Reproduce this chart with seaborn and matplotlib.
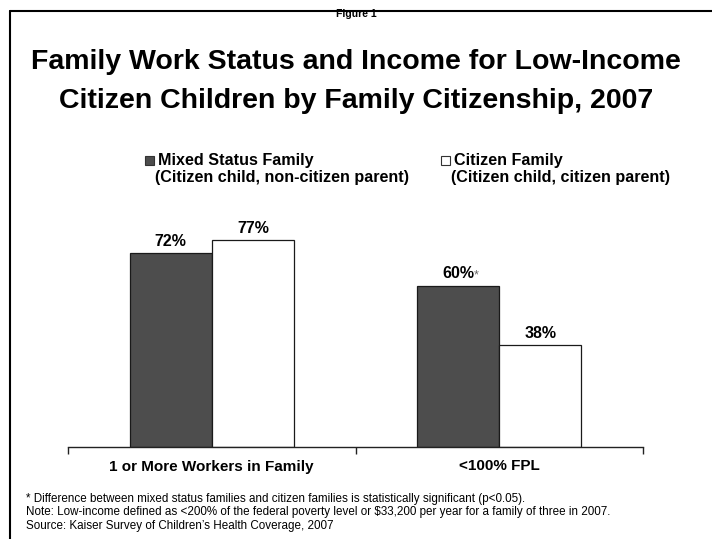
import matplotlib
matplotlib.use("Agg")
import matplotlib.pyplot as plt
import seaborn as sns
import pandas as pd
from matplotlib.patches import Rectangle
from matplotlib.lines import Line2D

categories = ["1 or More Workers in Family", "<100% FPL"]
series = ["Mixed Status Family", "Citizen Family"]
series_notes = ["(Citizen child, non-citizen parent)", "(Citizen child, citizen parent)"]
mixed_values = [72, 60]
citizen_values = [77, 38]
significant = [False, True]

footnotes = [
    "* Difference between mixed status families and citizen families is statistically significant (p<0.05).",
    "Note: Low-income defined as <200% of the federal poverty level or $33,200 per year for a family of three in 2007.",
    "Source: Kaiser Survey of Children\u2019s Health Coverage, 2007",
]

colors = {"Mixed Status Family": "#4d4d4d", "Citizen Family": "#ffffff"}

WIDE = ["Liberation Sans", "DejaVu Sans"]
NARROW = ["Liberation Sans Narrow", "Liberation Sans", "DejaVu Sans"]

df = pd.DataFrame({
    "category": categories * 2,
    "series": [series[0]] * 2 + [series[1]] * 2,
    "value": mixed_values + citizen_values,
})

sns.set_style("white")
plt.rcParams["font.family"] = WIDE
plt.rcParams["text.color"] = "black"
plt.rcParams["xtick.color"] = "black"

fig = plt.figure(figsize=(7.12, 5.39), dpi=100)
ax = fig.add_axes([68 / 712, 92 / 539, 575 / 712, 269 / 539])

sns.barplot(data=df, x="category", y="value", hue="series", order=categories,
            hue_order=series, palette=colors, width=0.572, gap=0,
            edgecolor="#1a1a1a", linewidth=0.9, legend=False, ax=ax)

ax.set_ylim(0, 100)
ax.set_xlim(-0.5, 1.5)
ax.set_xlabel("")
ax.set_ylabel("")
ax.set_yticks([])
for s in ["left", "right", "top"]:
    ax.spines[s].set_visible(False)
ax.spines["bottom"].set_color("#222222")
ax.spines["bottom"].set_linewidth(1.0)

ax.set_xticks(range(len(categories)))
ax.set_xticklabels(categories, fontsize=11, fontweight="bold", family=WIDE)
ax.tick_params(axis="x", which="major", bottom=True, length=0, pad=9, labelcolor="black")
ax.set_xticks([-0.5, 0.5, 1.5], minor=True)
ax.tick_params(axis="x", which="minor", bottom=True, length=5, width=1.0,
               direction="out", color="#222222")

# value labels above the bars
for j, (container, vals) in enumerate(zip(ax.containers, [mixed_values, citizen_values])):
    for i, (bar, v) in enumerate(zip(container, vals)):
        cx = bar.get_x() + bar.get_width() / 2
        ax.annotate(f"{v}%", (cx, v), xytext=(0, 3), textcoords="offset points",
                    ha="center", va="bottom", fontsize=11.5, fontweight="bold",
                    family=NARROW)
        if j == 0 and significant[i]:
            ax.annotate("*", (cx, v), xytext=(11.5, 11.5), textcoords="offset points",
                        ha="left", va="top", fontsize=9, color="#666666", family=NARROW)

# titles
fig.text(0.5, 1 - 14 / 539, "Figure 1", ha="center", va="center",
         fontsize=7.5, fontweight="bold", family=NARROW)
fig.text(0.5, 1 - 62 / 539, "Family Work Status and Income for Low-Income",
         ha="center", va="center", fontsize=20.5, fontweight="bold", family=WIDE)
fig.text(0.5, 1 - 101 / 539, "Citizen Children by Family Citizenship, 2007",
         ha="center", va="center", fontsize=20.5, fontweight="bold", family=WIDE)

# legend
for x0, name, note in zip([145, 441], series, series_notes):
    fig.patches.append(Rectangle((x0 / 712, 1 - 165 / 539), 9 / 712, 9 / 539,
                                 transform=fig.transFigure, facecolor=colors[name],
                                 edgecolor="#333333", linewidth=0.8))
    fig.text((x0 + 13) / 712, 1 - 160 / 539, name, ha="left", va="center",
             fontsize=11.6, fontweight="bold", family=NARROW)
    fig.text((x0 + 10) / 712, 1 - 177 / 539, note, ha="left", va="center",
             fontsize=11.6, fontweight="bold", family=NARROW)

# footnotes
for k, line in enumerate(footnotes):
    fig.text(26 / 712, 1 - (499 + 13.5 * k) / 539, line, ha="left", va="center",
             fontsize=8.4, family=NARROW)

# frame lines along the top and left edges
fig.add_artist(Line2D([10 / 712, 1], [1 - 11 / 539, 1 - 11 / 539],
                      transform=fig.transFigure, color="black", linewidth=1.5))
fig.add_artist(Line2D([10 / 712, 10 / 712], [1 - 11 / 539, 0],
                      transform=fig.transFigure, color="black", linewidth=1.5))

fig.savefig("out.png", dpi=100, facecolor="white")
